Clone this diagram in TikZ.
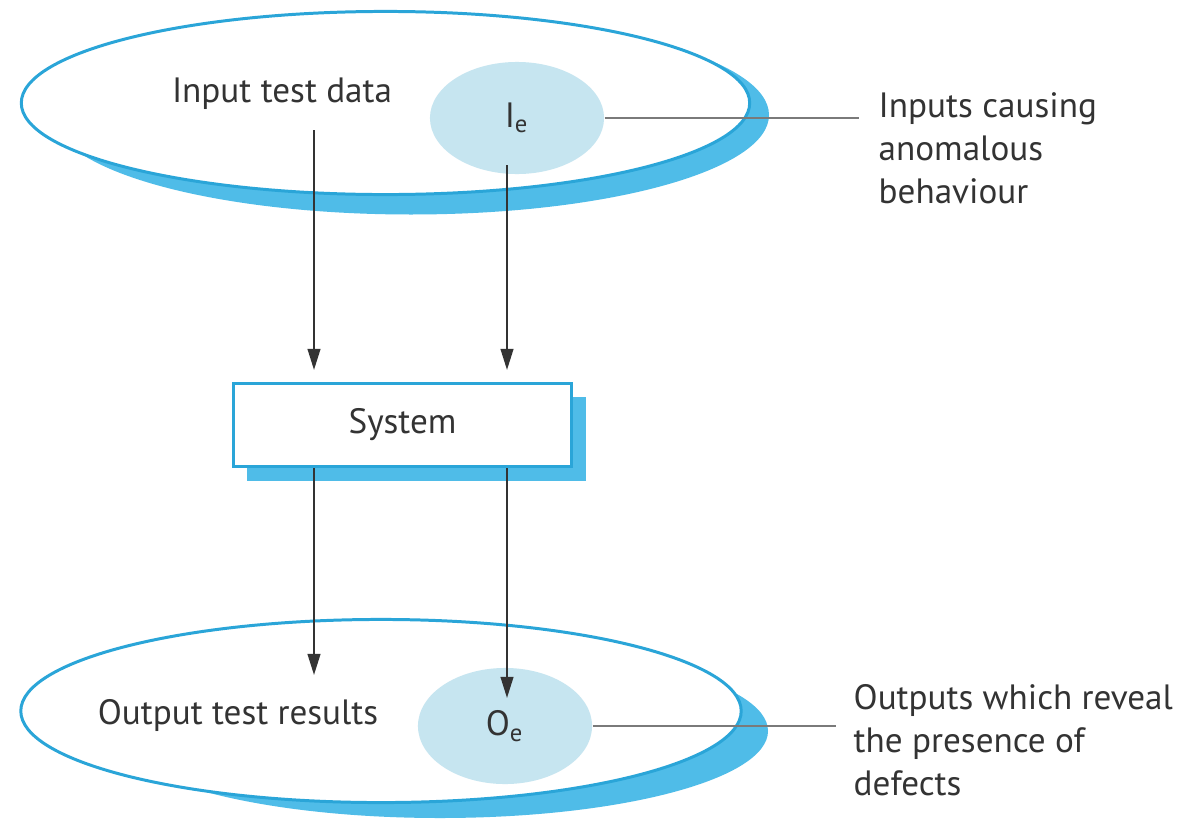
\documentclass[tikz,border=0pt]{standalone}
\usepackage{fontspec}
\setmainfont{PT Sans}
\usetikzlibrary{shapes.geometric,shadows,arrows.meta}
\definecolor{bord}{HTML}{2AA5D8}
\definecolor{shad}{HTML}{4FBCE8}
\definecolor{innerfill}{HTML}{C6E5F0}
\definecolor{txt}{HTML}{333333}
\definecolor{leadc}{HTML}{7A7A7A}
\begin{document}
\begin{tikzpicture}[x=0.01cm,y=-0.01cm,
  font=\fontsize{10}{12.2}\selectfont, text=txt,
  bigell/.style={ellipse, draw=bord, line width=0.85pt, fill=white, inner sep=0pt,
    minimum width=7.28cm, minimum height=1.83cm},
  shadowfill/.style={fill=shad},
  innerell/.style={ellipse, fill=innerfill, inner sep=0pt,
    minimum width=1.74cm, minimum height=1.12cm},
  sysbox/.style={rectangle, draw=bord, line width=0.85pt, fill=white, inner sep=0pt,
    minimum width=3.38cm, minimum height=0.83cm,
    general shadow={fill=shad, shadow xshift=0.14cm, shadow yshift=-0.14cm}},
  arr/.style={draw=black!80, line width=0.6pt, -{Triangle[length=6pt,width=3.6pt]}},
  leadline/.style={draw=leadc, line width=0.7pt},
  lab/.style={anchor=west, align=left, inner sep=0pt}
]
\useasboundingbox (0,0) rectangle (1182,824);
\fill[white] (0,0) rectangle (1182,824);

% crescent shadows of the two large ellipses (mostly hidden by the white ellipses)
\fill[shadowfill] (411,115) ellipse [x radius=358, y radius=99.5];
\fill[shadowfill] (440,731) ellipse [x radius=328, y radius=87];

\node[bigell] (inset) at (385.5,103) {};
\node[bigell, minimum width=7.2cm] (outset) at (381,711) {};
\node[innerell] (ie) at (517,118) {I\textsubscript{e}};
\node[innerell, minimum height=1.16cm] (oe) at (505,726) {O\textsubscript{e}};
\node (intxt) at (282,94) {Input test data};
\node (outtxt) at (238,715) {Output test results};
\node[sysbox] (sys) at (402.5,425) {System};
\node[lab] (inlab) at (878,148) {Inputs causing\\anomalous\\behaviour};
\node[lab] (outlab) at (853,740) {Outputs which reveal\\the presence of\\defects};

\coordinate (a1) at (314,130);
\coordinate (a2) at (507,165);
\coordinate (b1) at (314,675);
\coordinate (b2) at (507,698);

\draw[arr, shorten >=0.12cm] (a1) -- (a1 |- sys.north);
\draw[arr, shorten >=0.12cm] (a2) -- (a2 |- sys.north);
\draw[arr] (sys.south -| a1) -- (b1);
\draw[arr] (sys.south -| a2) -- (b2);

\draw[leadline] (ie.east) -- ([xshift=-0.19cm]inlab.west |- ie.east);
\draw[leadline] (oe.east) -- ([xshift=-0.17cm]outlab.west |- oe.east);
\end{tikzpicture}
\end{document}
